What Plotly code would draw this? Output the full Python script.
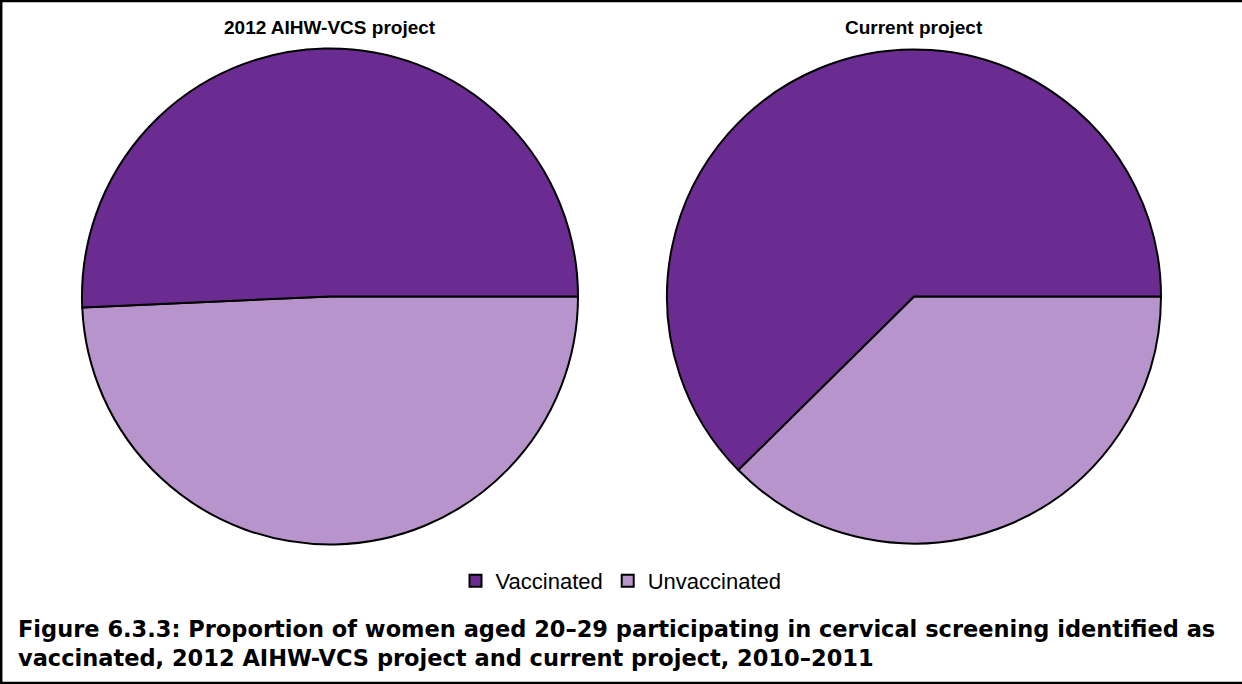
import plotly.graph_objects as go

# share of women aged 20-29 (%)
labels = ["Vaccinated", "Unvaccinated"]
projects = ["2012 AIHW-VCS project", "Current project"]
aihw_2012 = [50.7, 49.3]
current = [62.4, 37.6]

colors = ["#6B2C91", "#B894CC"]
W, H = 1242, 684


def pie(values, name, x0, x1, show_legend):
    # drawn clockwise from 3 o'clock starting with the unvaccinated slice,
    # so the vaccinated slice runs counterclockwise from 3 o'clock
    return go.Pie(
        labels=labels[::-1],
        values=values[::-1],
        name=name,
        sort=False,
        direction="clockwise",
        rotation=90,
        textinfo="none",
        hoverinfo="label+percent",
        marker=dict(colors=colors[::-1], line=dict(color="black", width=2)),
        domain=dict(x=[x0 / W, x1 / W], y=[1 - 545 / H, 1 - 48 / H]),
        showlegend=show_legend,
    )


fig = go.Figure()
fig.add_trace(pie(aihw_2012, projects[0], 82, 578, True))
fig.add_trace(pie(current, projects[1], 667, 1161, False))

# panel titles
for name, cx in zip(projects, [330, 914]):
    fig.add_annotation(
        text=f"<b>{name}</b>",
        x=cx / W, y=1 - 27 / H, xref="paper", yref="paper",
        xanchor="center", yanchor="middle",
        showarrow=False, font=dict(size=19, color="black"),
    )

fig.add_annotation(
    text="<b>Figure 6.3.3: Proportion of women aged 20–29 participating in cervical screening identified as<br>"
         "vaccinated, 2012 AIHW-VCS project and current project, 2010–2011</b>",
    x=16 / W, y=1 - 643 / H, xref="paper", yref="paper",
    xanchor="left", yanchor="middle", align="left",
    showarrow=False,
    font=dict(family="DejaVu Sans, sans-serif", size=22.5, color="black"),
)

# frame: top, left and bottom edges (right edge is cut off in the source)
for x0, y0, x1, y1 in [(0, 1 - 1 / H, 1.02, 1 - 1 / H),
                       (1.2 / W, 0, 1.2 / W, 1),
                       (0, 1 / H, 1.02, 1 / H)]:
    fig.add_shape(
        type="line", xref="paper", yref="paper",
        x0=x0, y0=y0, x1=x1, y1=y1,
        line=dict(color="black", width=2.5),
    )

fig.update_layout(
    width=W,
    height=H,
    margin=dict(l=0, r=0, t=0, b=0),
    paper_bgcolor="white",
    font=dict(family="Arial, Liberation Sans, sans-serif", color="black"),
    legend=dict(
        orientation="h",
        x=0.5, xanchor="center",
        y=1 - 581 / H, yanchor="middle",
        font=dict(size=22),
        traceorder="reversed",
    ),
)

fig.write_html(
    "out.html",
    config={"displayModeBar": False},
    post_script=(
        "document.body.style.margin = '0';"
        "document.body.style.overflow = 'hidden';"
        "document.documentElement.style.overflow = 'hidden';"
    ),
)
